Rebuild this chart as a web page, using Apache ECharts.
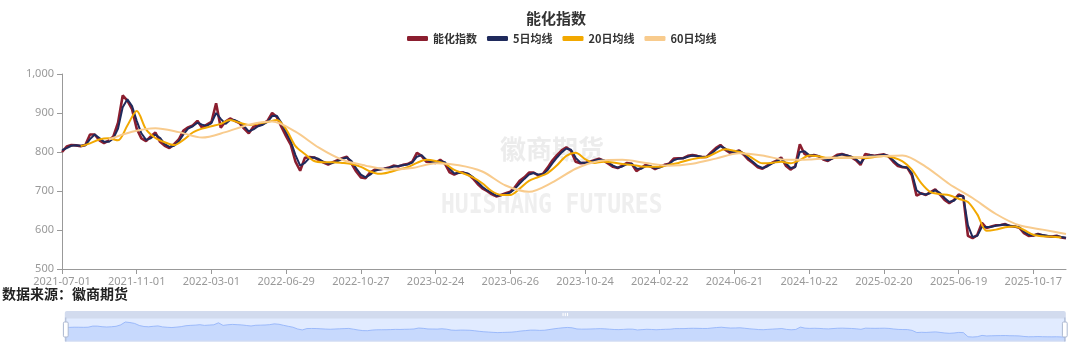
<!DOCTYPE html>
<html>
<head>
<meta charset="utf-8">
<script src="https://cdn.jsdelivr.net/npm/echarts@6/dist/echarts.min.js"></script>
<style>
html,body{margin:0;padding:0;background:#fff;}
#chart{width:1080px;height:359px;}
</style>
</head>
<body>
<div id="chart"></div>
<script>
// ---- categories: trading days (weekdays minus exchange holidays) ----
const startDate = '2021-07-01';
const endDate = '2025-12-05';
const holidays = ['2021-09-20','2021-09-21','2021-10-01','2021-10-04','2021-10-05','2021-10-06','2021-10-07',
'2022-01-03','2022-01-31','2022-02-01','2022-02-02','2022-02-03','2022-02-04','2022-04-04','2022-04-05','2022-05-02','2022-05-03','2022-05-04','2022-06-03','2022-09-12','2022-10-03','2022-10-04','2022-10-05','2022-10-06','2022-10-07',
'2023-01-02','2023-01-23','2023-01-24','2023-01-25','2023-01-26','2023-01-27','2023-04-05','2023-05-01','2023-05-02','2023-05-03','2023-06-22','2023-06-23','2023-09-29','2023-10-02','2023-10-03','2023-10-04','2023-10-05','2023-10-06',
'2024-01-01','2024-02-09','2024-02-12','2024-02-13','2024-02-14','2024-02-15','2024-02-16','2024-04-04','2024-04-05','2024-05-01','2024-05-02','2024-05-03','2024-06-10','2024-09-16','2024-09-17','2024-10-01','2024-10-02','2024-10-03','2024-10-04','2024-10-07',
'2025-01-01','2025-01-28','2025-01-29','2025-01-30','2025-01-31','2025-02-03','2025-02-04','2025-04-04','2025-05-01','2025-05-02','2025-05-05','2025-06-02','2025-10-01','2025-10-02','2025-10-03','2025-10-06','2025-10-07','2025-10-08'];

// ---- series values ----
// index value every 5 trading days
const idxStep = 5;
const indexVals = [800,814,818,817,815,818,845,845,830,823, 829,840,875,945,932,910,860,835,828,840,
850,826,816,810,820,832,855,863,868,880, 862,870,877,925,862,878,886,880,874,860,
848,865,868,872,880,900,890,864,840,818, 775,752,785,787,786,779,773,768,774,779,
784,788,770,750,735,733,748,755,756,757, 760,765,763,767,769,775,798,790,775,774,
772,780,770,748,742,748,747,743,732,718, 707,700,692,686,690,694,698,710,726,735,
747,747,740,744,760,778,792,804,812,803, 775,771,772,775,779,783,778,770,762,759,
765,772,770,751,759,767,763,756,762,767, 770,783,784,784,790,792,790,787,787,799,
810,818,806,798,800,804,793,780,771,761, 757,765,772,778,786,765,755,763,820,795,
789,792,789,781,777,785,793,795,791,787, 779,767,795,792,790,792,794,789,775,764,
761,760,740,688,694,690,697,704,691,677, 669,677,691,686,585,579,587,618,605,609,
612,613,615,610,609,606,592,585,586,590, 586,584,583,585,581,579];

const ma5Step = 5;
const ma5Vals = [805,810,816,817,816,817,833,845,836,826, 826,835,860,915,935,918,880,848,831,835,
845,836,820,813,816,827,845,860,866,875, 870,867,874,900,885,872,882,882,876,866,
853,858,866,870,877,892,893,874,850,827, 792,765,772,785,786,782,775,770,772,777,
782,786,777,758,742,735,742,752,755,757, 759,763,764,766,768,773,788,792,780,775,
773,777,774,757,745,746,747,744,736,723, 711,702,695,688,689,692,696,706,719,731,
742,746,742,743,754,771,786,799,809,806, 785,773,772,774,778,781,779,773,765,760,
763,769,770,758,757,764,764,758,760,765, 769,779,783,784,788,791,790,788,787,795,
806,815,809,801,800,803,796,784,774,764, 759,763,770,776,783,771,759,761,800,802,
792,791,790,783,779,783,790,794,792,788, 782,771,787,792,790,791,793,790,779,768,
762,760,746,702,693,691,695,702,695,682, 672,675,687,687,612,582,585,608,608,608,
611,613,614,611,609,607,596,588,586,589, 587,585,583,584,582,580];

const ma20Step = 10;
const ma20Vals = [null,null,815,822,832,835,830,868,905,858, 836,825,818,831,850,860,866,872,882,875,
869,873,877,882,858,815,795,777,774,774, 772,769,762,750,744,748,755,761,772,780,
777,770,754,745,735,720,700,690,690,706, 726,736,746,766,790,798,782,772,775,773,
769,767,763,762,762,767,772,779,784,787, 798,807,803,797,783,771,772,775,771,779,
791,789,785,785,786,786,784,787,790,786, 776,755,720,697,692,689,680,672,640,598,
601,607,609,600,588,584,583,581];

const ma60Step = 25;
const ma60Vals = [null,null,832,852,861,851,837,851,870,878, 852,811,780,765,755,759,771,766,750,714,
698,722,757,777,780,772,765,770,783,797, 791,780,781,785,786,789,791,762,718,682,
641,612,601,590];

const seriesNames = ['能化指数','5日均线','20日均线','60日均线'];
const yTicks = {min: 500, max: 1000, interval: 100};

// ---- build categories ----
function fmt(d){
  const y=d.getUTCFullYear(), m=d.getUTCMonth()+1, dd=d.getUTCDate();
  return y+'-'+(m<10?'0':'')+m+'-'+(dd<10?'0':'')+dd;
}
const hol = new Set(holidays);
const categories = [];
{
  const p = startDate.split('-').map(Number), q = endDate.split('-').map(Number);
  let t = Date.UTC(p[0],p[1]-1,p[2]);
  const end = Date.UTC(q[0],q[1]-1,q[2]);
  while (t <= end) {
    const d = new Date(t);
    const wd = d.getUTCDay();
    const s = fmt(d);
    if (wd !== 0 && wd !== 6 && !hol.has(s)) categories.push(s);
    t += 86400000;
  }
}
function pairs(vals, step){
  const out = [];
  vals.forEach((v,i)=>{ if(v!==null && i*step < categories.length) out.push([i*step, v]); });
  return out;
}

const chart = echarts.init(document.getElementById('chart'), null, {renderer:'canvas'});
const labelFont = "'Noto Sans', 'Noto Sans CJK SC', sans-serif";
const cjkFont = "'Noto Sans CJK SC', sans-serif";
const colors = ['#8B1E2F','#1F2A5C','#F2A800','#F8CB8D'];

chart.setOption({
  animation: false,
  backgroundColor: '#fff',
  title: {
    text: '能化指数', left: 521, top: 6,
    textStyle: {fontSize: 15, fontWeight: 'bold', color: '#333', fontFamily: cjkFont}
  },
  legend: {
    data: seriesNames, left: 402, top: 28,
    icon: 'roundRect', itemWidth: 21, itemHeight: 5, itemGap: 10,
    textStyle: {fontSize: 11, fontWeight: 'bold', color: '#333', fontFamily: cjkFont}
  },
  grid: {left: 62, right: 14, top: 74, bottom: 90, containLabel: false},
  graphic: [
    {type:'text', left: 500, top: 136, z: 0, silent: true,
     style: {text: '徽商期货', font: "bold 26px 'Noto Sans CJK SC'", fill: '#ececec'}},
    {type:'text', left: 441, top: 193, z: 0, silent: true, scaleY: 1.15,
     style: {text: 'HUISHANG FUTURES', font: "bold 23px 'DejaVu Sans Mono'", fill: '#efefef'}},
    {type:'text', left: 2, top: 287,
     style: {text: '数据来源：徽商期货', font: "bold 14px 'Noto Sans CJK SC'", fill: '#222'}}
  ],
  xAxis: {
    type: 'category', data: categories, boundaryGap: false,
    axisLine: {lineStyle: {color: '#999'}},
    axisTick: {interval: 79, lineStyle: {color: '#999'}},
    axisLabel: {interval: 79, color: '#999', fontSize: 11, fontFamily: labelFont, margin: 7},
    splitLine: {show: false}
  },
  yAxis: {
    type: 'value', min: yTicks.min, max: yTicks.max, interval: yTicks.interval,
    axisLine: {show: true, lineStyle: {color: '#999'}},
    axisTick: {show: true, lineStyle: {color: '#999'}},
    axisLabel: {color: '#999', fontSize: 11, fontFamily: labelFont},
    splitLine: {show: false}
  },
  dataZoom: [{
    type: 'slider', start: 0, end: 100, left: 62, right: 17, top: 311, height: 24,
    showDetail: false,
    backgroundColor: 'rgba(47,69,84,0)',
    borderColor: '#d2dbee',
    fillerColor: 'rgba(135,175,274,0.25)',
    dataBackground: {lineStyle: {color: '#b8c8ee', width: 0.8}, areaStyle: {color: '#c4d3f3', opacity: 0.5}},
    selectedDataBackground: {lineStyle: {color: '#8fb0f7', width: 0.8}, areaStyle: {color: '#8fb0f7', opacity: 0.3}},
    handleIcon: 'path://M-9.35,34.56V42m0-40V9.5m-2,0h4a2,2,0,0,1,2,2v21a2,2,0,0,1-2,2h-4a2,2,0,0,1-2-2v-21A2,2,0,0,1-11.35,9.5Z',
    handleSize: '100%',
    handleStyle: {color: '#fff', borderColor: '#ACB8D1'},
    moveHandleSize: 7,
    moveHandleStyle: {color: '#D2DBEE', opacity: 1},
    brushSelect: true
  }],
  series: [
    {name: seriesNames[0], type: 'line', data: pairs(indexVals, idxStep), showSymbol: false,
     lineStyle: {width: 2.6, color: colors[0]}, itemStyle: {color: colors[0]}, z: 2},
    {name: seriesNames[1], type: 'line', data: pairs(ma5Vals, ma5Step), showSymbol: false,
     lineStyle: {width: 2, color: colors[1]}, itemStyle: {color: colors[1]}, z: 3},
    {name: seriesNames[2], type: 'line', data: pairs(ma20Vals, ma20Step), showSymbol: false, smooth: 0.3,
     lineStyle: {width: 2, color: colors[2]}, itemStyle: {color: colors[2]}, z: 4},
    {name: seriesNames[3], type: 'line', data: pairs(ma60Vals, ma60Step), showSymbol: false, smooth: 0.3,
     lineStyle: {width: 2, color: colors[3]}, itemStyle: {color: colors[3]}, z: 4}
  ]
});
</script>
</body>
</html>
